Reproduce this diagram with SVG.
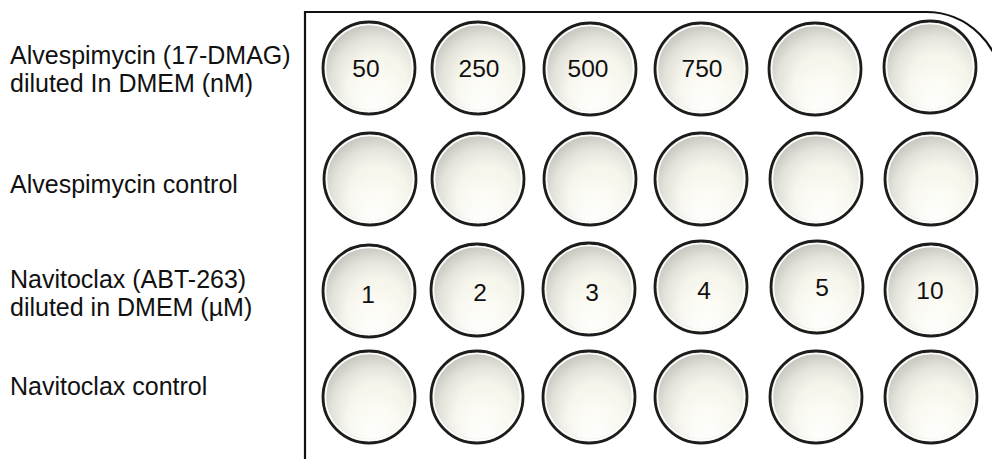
<svg xmlns="http://www.w3.org/2000/svg" width="992" height="459" viewBox="0 0 992 459">
<style>
.lbl{font-family:"Liberation Sans",Arial,Helvetica,sans-serif;font-size:25px;fill:#111}
.num{font-family:"Liberation Sans",Arial,Helvetica,sans-serif;font-size:24.5px;fill:#111;text-anchor:middle}
.plate{fill:none;stroke:#111;stroke-width:2.2}
</style>
<defs>
<radialGradient id="wg" cx="0.58" cy="0.64" r="0.62" fx="0.6" fy="0.68">
<stop offset="0" stop-color="#fbfaf0"/>
<stop offset="0.5" stop-color="#f6f5ec"/>
<stop offset="0.78" stop-color="#e4e3db"/>
<stop offset="1" stop-color="#c9c8c0"/>
</radialGradient>
<radialGradient id="hl" cx="0.55" cy="0.95" r="0.5">
<stop offset="0" stop-color="#ffffff" stop-opacity="0.85"/>
<stop offset="1" stop-color="#ffffff" stop-opacity="0"/>
</radialGradient>
<g id="well">
<circle r="46" fill="url(#wg)" stroke="#1c1c1c" stroke-width="2.8"/>
<circle r="43.5" fill="none" stroke="#ffffff" stroke-width="1.4"/>
<circle r="42" fill="url(#hl)"/>
</g>
</defs>
<g id="plate">
<path class="plate" d="M305,459 V12 H926 A76,76 0 0 1 1002,88 V459"/>
</g>
<g id="labels">
<g id="label-row1"><text class="lbl" x="10" y="63.5">Alvespimycin (17-DMAG)</text><text class="lbl" x="10" y="92">diluted In DMEM (nM)</text></g>
<g id="label-row2"><text class="lbl" x="10" y="193">Alvespimycin control</text></g>
<g id="label-row3"><text class="lbl" x="10" y="288">Navitoclax (ABT-263)</text><text class="lbl" x="10" y="316">diluted in DMEM (µM)</text></g>
<g id="label-row4"><text class="lbl" x="10" y="395">Navitoclax control</text></g>
</g>
<g id="row1">
<g id="w1-1"><use href="#well" x="369" y="68"/><text class="num" x="366" y="77">50</text></g>
<g id="w1-2"><use href="#well" x="478" y="68"/><text class="num" x="479" y="77">250</text></g>
<g id="w1-3"><use href="#well" x="590" y="69"/><text class="num" x="588" y="77">500</text></g>
<g id="w1-4"><use href="#well" x="701" y="69"/><text class="num" x="702" y="77">750</text></g>
<g id="w1-5"><use href="#well" x="815" y="69"/></g>
<g id="w1-6"><use href="#well" x="930" y="67"/></g>
</g>
<g id="row2">
<g id="w2-1"><use href="#well" x="370" y="179"/></g>
<g id="w2-2"><use href="#well" x="478" y="179"/></g>
<g id="w2-3"><use href="#well" x="590" y="179"/></g>
<g id="w2-4"><use href="#well" x="701" y="179"/></g>
<g id="w2-5"><use href="#well" x="816" y="179"/></g>
<g id="w2-6"><use href="#well" x="931" y="179"/></g>
</g>
<g id="row3">
<g id="w3-1"><use href="#well" x="369" y="291"/><text class="num" x="368" y="303">1</text></g>
<g id="w3-2"><use href="#well" x="477" y="290"/><text class="num" x="480" y="301">2</text></g>
<g id="w3-3"><use href="#well" x="589" y="289"/><text class="num" x="592" y="301">3</text></g>
<g id="w3-4"><use href="#well" x="701" y="287"/><text class="num" x="704" y="299">4</text></g>
<g id="w3-5"><use href="#well" x="817" y="287"/><text class="num" x="822" y="296">5</text></g>
<g id="w3-6"><use href="#well" x="931" y="290"/><text class="num" x="930" y="299">10</text></g>
</g>
<g id="row4">
<g id="w4-1"><use href="#well" x="369" y="397"/></g>
<g id="w4-2"><use href="#well" x="477" y="397"/></g>
<g id="w4-3"><use href="#well" x="589" y="397"/></g>
<g id="w4-4"><use href="#well" x="701" y="397"/></g>
<g id="w4-5"><use href="#well" x="816" y="397"/></g>
<g id="w4-6"><use href="#well" x="931" y="397"/></g>
</g>
</svg>
